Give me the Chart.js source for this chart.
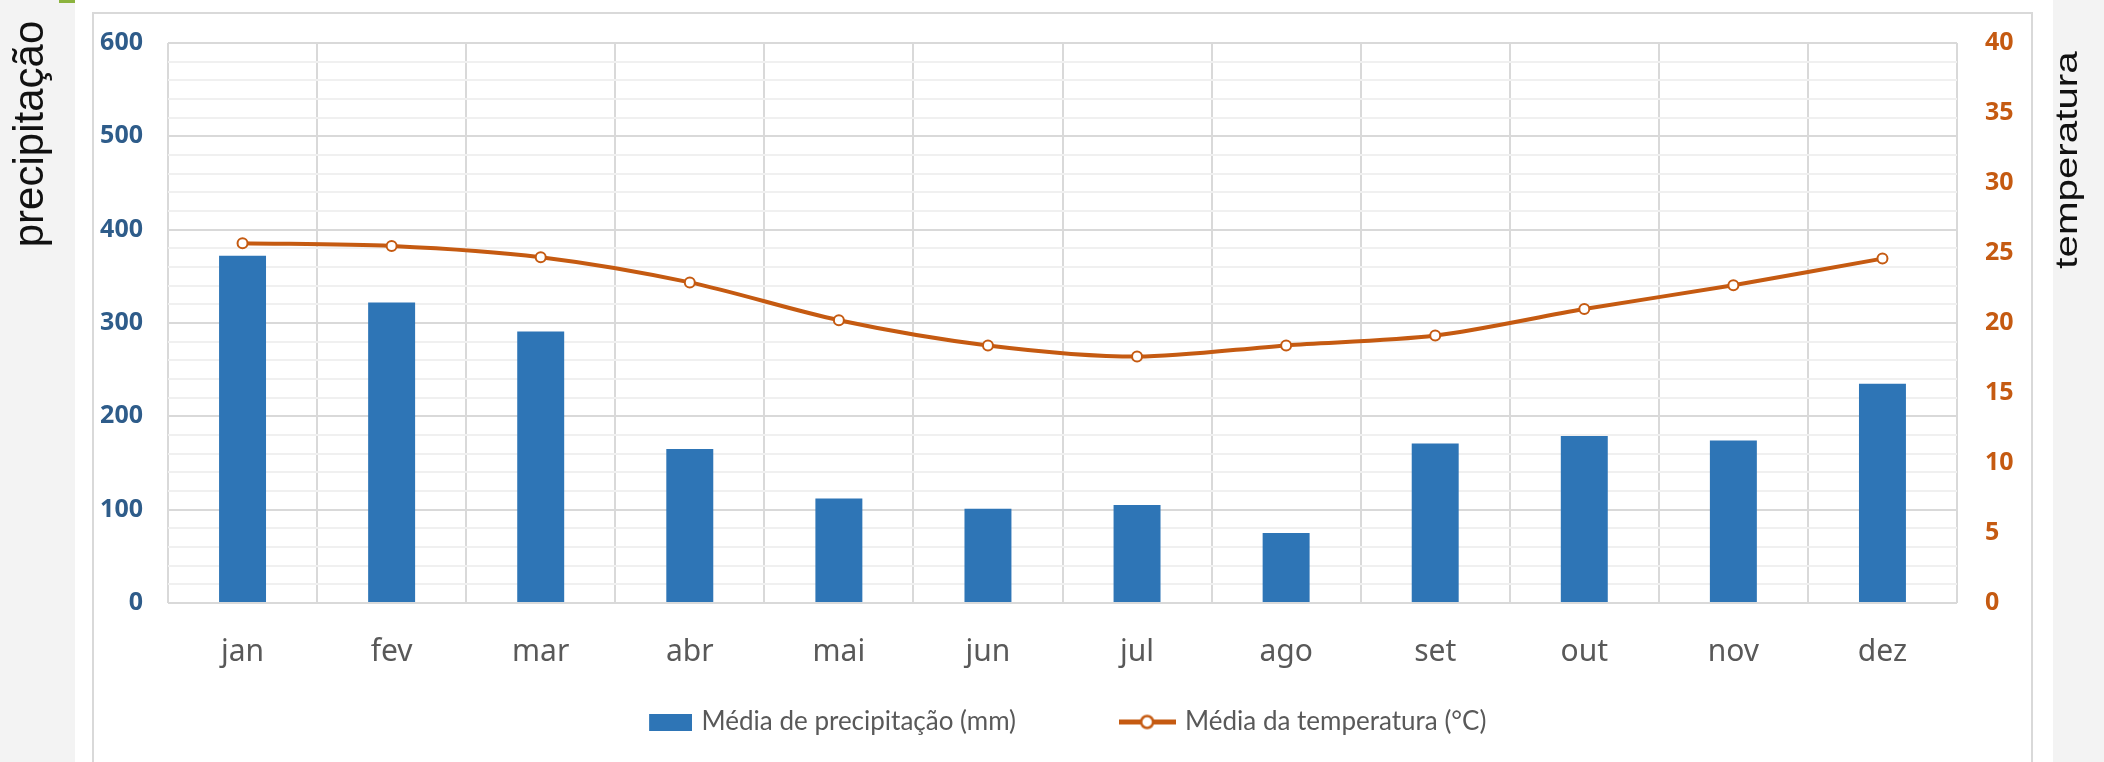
<!DOCTYPE html>
<html>
<head>
<meta charset="utf-8">
<script src="https://cdn.jsdelivr.net/npm/chart.js@4/dist/chart.umd.min.js"></script>
<style>
  html, body { margin: 0; padding: 0; background: #f3f3f3; }
  #wrap { width: 2104px; height: 762px; position: relative; }
</style>
</head>
<body>
<div id="wrap"><canvas id="chart"></canvas></div>
<script>
const months = ['jan', 'fev', 'mar', 'abr', 'mai', 'jun', 'jul', 'ago', 'set', 'out', 'nov', 'dez']
const precipitation = [372, 322, 291, 165, 112, 101, 105, 75, 171, 179, 174, 235]
const temperature = [25.7, 25.5, 24.7, 22.9, 20.2, 18.4, 17.6, 18.4, 19.1, 21.0, 22.7, 24.6]
const precipLabel = 'Média de precipitação (mm)'
const tempLabel = 'Média da temperatura (°C)'
const precipAxis = { min: 0, max: 600, step: 20, labelStep: 100 }
const tempAxis = { min: 0, max: 40, step: 5 }

const BLUE = '#2e75b6'
const ORANGE = '#c55a11'

// legend symbols, drawn once on small canvases
function makeSymbol (w, h, draw) {
  const c = document.createElement('canvas')
  c.width = w
  c.height = h
  draw(c.getContext('2d'))
  return c
}
const barSymbol = makeSymbol(57, 17, (g) => {
  g.fillStyle = BLUE
  g.fillRect(14, 0, 43, 17)
})
const lineSymbol = makeSymbol(57, 17, (g) => {
  g.strokeStyle = ORANGE
  g.lineWidth = 5
  g.beginPath()
  g.moveTo(0, 8.5)
  g.lineTo(57, 8.5)
  g.stroke()
  g.fillStyle = '#fff'
  g.lineWidth = 2.5
  g.beginPath()
  g.arc(28.5, 8.5, 6, 0, Math.PI * 2)
  g.fill()
  g.stroke()
})

const frame = {
  id: 'frame',
  afterLayout (chart) {
    // x axis takes no room in the layout, but its labels need an unclipped band
    const x = chart.scales.x
    x.bottom = x.top + 80
    x.height = 80
  },
  beforeDraw (chart) {
    const { ctx, width, height } = chart
    ctx.save()
    ctx.fillStyle = '#f3f3f3'
    ctx.fillRect(0, 0, width, height)
    ctx.fillStyle = '#fff'
    ctx.fillRect(75, 0, 1978, height)
    ctx.fillStyle = '#8cb33e'
    ctx.fillRect(59, 0, 16, 3)
    ctx.strokeStyle = '#d9d9d9'
    ctx.lineWidth = 2
    ctx.strokeRect(93, 13, 1939, height + 10)
    ctx.restore()
  },
  afterDraw (chart) {
    const ctx = chart.ctx
    ctx.save()
    ctx.fillStyle = '#111'
    ctx.textAlign = 'center'
    ctx.textBaseline = 'middle'

    ctx.save()
    ctx.translate(31, 134)
    ctx.rotate(-Math.PI / 2)
    ctx.font = '42px "Liberation Sans", Arial, sans-serif'
    ctx.fillText('precipitação', 0, 0)
    ctx.restore()

    ctx.save()
    ctx.translate(2068, 160)
    ctx.rotate(-Math.PI / 2)
    ctx.scale(1.3, 1)
    ctx.font = '31px "Liberation Sans", Arial, sans-serif'
    ctx.fillText('temperatura', 0, 0)
    ctx.restore()

    ctx.restore()
  }
}

const ctx = document.getElementById('chart')
new Chart(ctx, {
  type: 'bar',
  data: {
    labels: months,
    datasets: [
      {
        type: 'line',
        label: tempLabel,
        data: temperature,
        yAxisID: 'yTemp',
        borderColor: ORANGE,
        borderWidth: 4,
        backgroundColor: ORANGE,
        pointRadius: 5,
        pointBorderWidth: 2,
        pointBackgroundColor: '#fff',
        pointBorderColor: ORANGE,
        tension: 0.3
      },
      {
        type: 'bar',
        label: precipLabel,
        data: precipitation,
        yAxisID: 'yPrecip',
        backgroundColor: BLUE,
        barPercentage: 0.315,
        categoryPercentage: 1
      }
    ]
  },
  options: {
    responsive: true,
    maintainAspectRatio: false,
    animation: false,
    layout: {
      padding: { left: 93, right: 72, top: 43, bottom: 17 }
    },
    scales: {
      x: {
        grid: { color: '#d9d9d9', lineWidth: 2, drawTicks: false, offset: true },
        border: { display: false },
        ticks: {
          color: '#595959',
          font: { family: '"Noto Sans", sans-serif', size: 30 },
          padding: 31
        },
        afterFit (scale) { scale.height = 0 }
      },
      yPrecip: {
        position: 'left',
        min: precipAxis.min,
        max: precipAxis.max,
        grid: {
          drawTicks: false,
          lineWidth: 2,
          color: (c) => (c.tick.value % precipAxis.labelStep === 0 ? '#d9d9d9' : '#f0f0f0')
        },
        border: { display: false },
        ticks: {
          stepSize: precipAxis.step,
          autoSkip: false,
          padding: 25,
          color: '#2e5c8a',
          font: { family: '"Noto Sans", sans-serif', size: 25, weight: 'bold' },
          callback: (v) => (v % precipAxis.labelStep === 0 ? v : '')
        },
        afterFit (scale) { scale.width = 75 }
      },
      yTemp: {
        position: 'right',
        min: tempAxis.min,
        max: tempAxis.max,
        grid: { display: false, drawTicks: false },
        border: { display: false },
        ticks: {
          stepSize: tempAxis.step,
          padding: 28,
          color: ORANGE,
          font: { family: '"Noto Sans", sans-serif', size: 25, weight: 'bold' }
        },
        afterFit (scale) { scale.width = 75 }
      }
    },
    plugins: {
      tooltip: { enabled: false },
      legend: {
        position: 'bottom',
        labels: {
          usePointStyle: true,
          pointStyleWidth: 50,
          padding: 106,
          color: '#595959',
          font: { family: 'Lato, "Noto Sans", sans-serif', size: 26 },
          generateLabels: (chart) => {
            const sets = chart.data.datasets
            return [1, 0].map((i) => ({
              text: sets[i].label,
              datasetIndex: i,
              pointStyle: i === 1 ? barSymbol : lineSymbol,
              fontColor: '#595959',
              hidden: false,
              lineWidth: 0
            }))
          }
        }
      }
    }
  },
  plugins: [frame]
})
</script>
</body>
</html>
